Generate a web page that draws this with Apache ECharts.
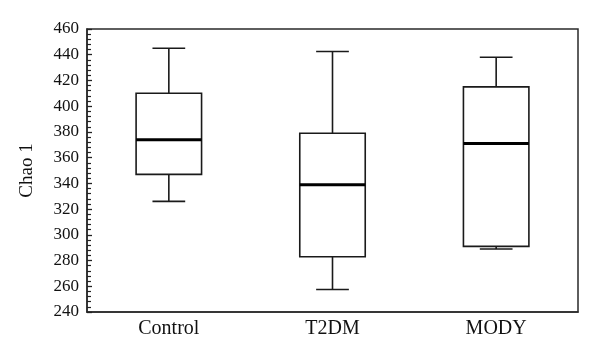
<!DOCTYPE html>
<html>
<head>
<meta charset="utf-8">
<script src="https://cdn.jsdelivr.net/npm/echarts@6/dist/echarts.min.js"></script>
<style>
html,body{margin:0;padding:0;background:#fff;}
#chart{width:600px;height:356px;}
</style>
</head>
<body>
<div id="chart"></div>
<script>
var categories = ['Control', 'T2DM', 'MODY'];
var whiskerLow = [326, 257.5, 289];
var q1 = [347, 283, 291];
var median = [374, 339, 371];
var q3 = [410, 379, 415];
var whiskerHigh = [445, 442.5, 438];
var yTicks = [240, 260, 280, 300, 320, 340, 360, 380, 400, 420, 440, 460];

var data = categories.map(function (c, i) {
  return [i, whiskerLow[i], q1[i], median[i], q3[i], whiskerHigh[i]];
});

var INK = '#1a1a1a';
var FONT = 'Liberation Serif';

var chart = echarts.init(document.getElementById('chart'), null, {renderer: 'canvas'});
chart.setOption({
  animation: false,
  backgroundColor: '#fff',
  grid: {left: 87, right: 22, top: 29, bottom: 44, show: true, borderColor: '#2a2a2a', borderWidth: 1.5, backgroundColor: 'transparent'},
  xAxis: {
    type: 'category',
    data: categories,
    boundaryGap: true,
    axisLine: {show: true, lineStyle: {color: '#2a2a2a', width: 1.5}},
    axisTick: {show: false},
    splitLine: {show: false},
    axisLabel: {color: '#111', fontFamily: FONT, fontSize: 20, margin: 7}
  },
  yAxis: {
    type: 'value',
    min: yTicks[0],
    max: yTicks[yTicks.length - 1],
    interval: 20,
    name: 'Chao 1',
    nameLocation: 'middle',
    nameGap: 50,
    nameTextStyle: {color: '#111', fontFamily: FONT, fontSize: 19},
    axisLine: {show: true, lineStyle: {color: '#2a2a2a', width: 1.5}},
    axisTick: {show: true, inside: true, length: 5, lineStyle: {color: '#222', width: 1.3}},
    minorTick: {show: true, splitNumber: 5, length: 4, lineStyle: {color: '#222', width: 1.2}},
    splitLine: {show: false},
    axisLabel: {color: '#111', fontFamily: FONT, fontSize: 17, margin: 8}
  },
  series: [{
    type: 'custom',
    data: data,
    encode: {x: 0, y: [1, 2, 3, 4, 5]},
    renderItem: function (params, api) {
      var idx = api.value(0);
      var band = api.size([1, 0])[0];
      var bw = band * 0.4;
      var cw = band * 0.2;
      var pLow = api.coord([idx, api.value(1)]);
      var pQ1 = api.coord([idx, api.value(2)]);
      var pMed = api.coord([idx, api.value(3)]);
      var pQ3 = api.coord([idx, api.value(4)]);
      var pHigh = api.coord([idx, api.value(5)]);
      var x = pLow[0];
      var thin = {stroke: INK, lineWidth: 1.6, fill: null};
      return {
        type: 'group',
        children: [
          {type: 'line', shape: {x1: x, y1: pHigh[1], x2: x, y2: pQ3[1]}, style: thin},
          {type: 'line', shape: {x1: x, y1: pQ1[1], x2: x, y2: pLow[1]}, style: thin},
          {type: 'line', shape: {x1: x - cw / 2, y1: pHigh[1], x2: x + cw / 2, y2: pHigh[1]}, style: thin},
          {type: 'line', shape: {x1: x - cw / 2, y1: pLow[1], x2: x + cw / 2, y2: pLow[1]}, style: thin},
          {type: 'rect', shape: {x: x - bw / 2, y: pQ3[1], width: bw, height: pQ1[1] - pQ3[1]}, style: {stroke: INK, lineWidth: 1.6, fill: '#fff'}},
          {type: 'line', shape: {x1: x - bw / 2, y1: pMed[1], x2: x + bw / 2, y2: pMed[1]}, style: {stroke: '#000', lineWidth: 3}}
        ]
      };
    }
  }]
});
</script>
</body>
</html>
